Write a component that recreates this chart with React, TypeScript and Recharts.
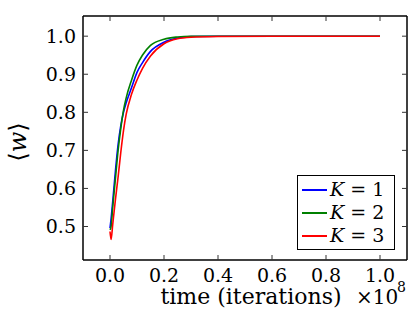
import { LineChart, Line, XAxis, YAxis } from 'recharts';

// x in units of 1e8 iterations
const xs = [0, 0.004, 0.01, 0.02, 0.03, 0.04, 0.05, 0.06, 0.08, 0.1, 0.12, 0.15, 0.2, 0.25, 0.3, 0.4, 0.6, 0.8, 1.0];
const k1 = [0.496, 0.52, 0.565, 0.645, 0.715, 0.765, 0.8, 0.825, 0.865, 0.905, 0.93, 0.96, 0.984, 0.995, 0.999, 1.0, 1.0, 1.0, 1.0];
const k2 = [0.491, 0.5, 0.55, 0.625, 0.7, 0.758, 0.805, 0.838, 0.885, 0.924, 0.95, 0.976, 0.992, 0.998, 1.0, 1.0, 1.0, 1.0, 1.0];
const k3 = [0.487, 0.466, 0.505, 0.57, 0.63, 0.695, 0.752, 0.795, 0.848, 0.885, 0.915, 0.948, 0.98, 0.993, 0.997, 0.999, 1.0, 1.0, 1.0];

const xTicks = [0, 0.2, 0.4, 0.6, 0.8, 1.0];
const yTicks = [0.5, 0.6, 0.7, 0.8, 0.9, 1.0];

const series = [
  { key: 'k1', k: '1', color: '#0000ff' },
  { key: 'k2', k: '2', color: '#008000' },
  { key: 'k3', k: '3', color: '#ff0000' },
];

const data = xs.map((x, i) => ({ x, k1: k1[i], k2: k2[i], k3: k3[i] }));

const FONT = '"DejaVu Serif", serif';
const TICK = 5;

function BottomTick({ x, y, payload }: any) {
  return (
    <g>
      <line x1={x} x2={x} y1={y} y2={y - TICK} stroke="#333" strokeWidth={1} />
      <text x={x} y={y + 22} textAnchor="middle" fontFamily={FONT} fontSize={19} fill="#000">
        {Number(payload.value).toFixed(1)}
      </text>
    </g>
  );
}

function TopTick({ x, y }: any) {
  return <line x1={x} x2={x} y1={y} y2={y + TICK} stroke="#333" strokeWidth={1} />;
}

function LeftTick({ x, y, payload }: any) {
  return (
    <g>
      <line x1={x} x2={x + TICK} y1={y} y2={y} stroke="#333" strokeWidth={1} />
      <text x={x - 7} y={y + 6.5} textAnchor="end" fontFamily={FONT} fontSize={19} fill="#000">
        {Number(payload.value).toFixed(1)}
      </text>
    </g>
  );
}

function RightTick({ x, y }: any) {
  return <line x1={x} x2={x - TICK} y1={y} y2={y} stroke="#333" strokeWidth={1} />;
}

function LegendBox() {
  return (
    <div
      style={{
        position: 'absolute', left: 297, top: 175, width: 96, height: 71,
        border: '1.5px solid #000', background: '#fff', fontFamily: FONT, fontSize: 19,
        paddingTop: 2,
      }}
    >
      {series.map((s) => (
        <div key={s.key} style={{ display: 'flex', alignItems: 'center', height: 23 }}>
          <span style={{ width: 25, height: 2, background: s.color, marginLeft: 4, marginRight: 3 }} />
          <span style={{ color: '#000', whiteSpace: 'nowrap', lineHeight: '23px' }}>
            <i>K</i> = {s.k}
          </span>
        </div>
      ))}
    </div>
  );
}

export default function App() {
  return (
    <div style={{ position: 'absolute', left: 0, top: 0, width: 415, height: 312, background: '#fff' }}>
      <LineChart width={415} height={312} data={data} margin={{ top: 15, right: 7, left: 0, bottom: 0 }}>
        <XAxis
          xAxisId="b"
          dataKey="x"
          type="number"
          domain={[-0.1, 1.1]}
          ticks={xTicks}
          height={52}
          tickSize={0}
          tickMargin={0}
          tickLine={false}
          axisLine={{ stroke: '#000', strokeWidth: 1.5 }}
          tick={<BottomTick />}
          interval={0}
          label={({ viewBox }: any) => (
            <g>
              <text x={viewBox.x + viewBox.width / 2 + 6} y={304} textAnchor="middle" fontFamily={FONT} fontSize={22} fill="#000">
                time (iterations)
              </text>
              <text x={356} y={304} fontFamily={FONT} fontSize={20} fill="#000">
                ×10
              </text>
              <text x={397} y={292} fontFamily={FONT} fontSize={14} fill="#000">
                8
              </text>
            </g>
          )}
        />
        <XAxis
          xAxisId="t"
          orientation="top"
          dataKey="x"
          type="number"
          domain={[-0.1, 1.1]}
          ticks={xTicks}
          height={1}
          tickSize={0}
          tickMargin={0}
          tickLine={false}
          axisLine={{ stroke: '#000', strokeWidth: 1.5 }}
          tick={<TopTick />}
          interval={0}
        />
        <YAxis
          yAxisId="l"
          type="number"
          domain={[0.412, 1.053]}
          ticks={yTicks}
          width={83}
          tickSize={0}
          tickMargin={0}
          tickLine={false}
          axisLine={{ stroke: '#000', strokeWidth: 1.5 }}
          tick={<LeftTick />}
          interval={0}
          allowDataOverflow
          label={({ viewBox }: any) => (
            <text
              x={18}
              y={viewBox.y + viewBox.height / 2 + 4}
              transform={`rotate(-90 18 ${viewBox.y + viewBox.height / 2 + 4})`}
              textAnchor="middle"
              dominantBaseline="central"
              fontFamily={FONT}
              fontSize={24}
              fill="#000"
            >
              ⟨<tspan fontStyle="italic">w</tspan>⟩
            </text>
          )}
        />
        <YAxis
          yAxisId="r"
          orientation="right"
          type="number"
          domain={[0.412, 1.053]}
          ticks={yTicks}
          width={1}
          tickSize={0}
          tickMargin={0}
          tickLine={false}
          axisLine={{ stroke: '#000', strokeWidth: 1.5 }}
          tick={<RightTick />}
          interval={0}
          allowDataOverflow
        />
        {series.map((s) => (
          <Line
            key={s.key}
            xAxisId="b"
            yAxisId="l"
            type="monotone"
            dataKey={s.key}
            stroke={s.color}
            strokeWidth={1.6}
            dot={false}
            isAnimationActive={false}
          />
        ))}
      </LineChart>
      <LegendBox />
    </div>
  );
}
